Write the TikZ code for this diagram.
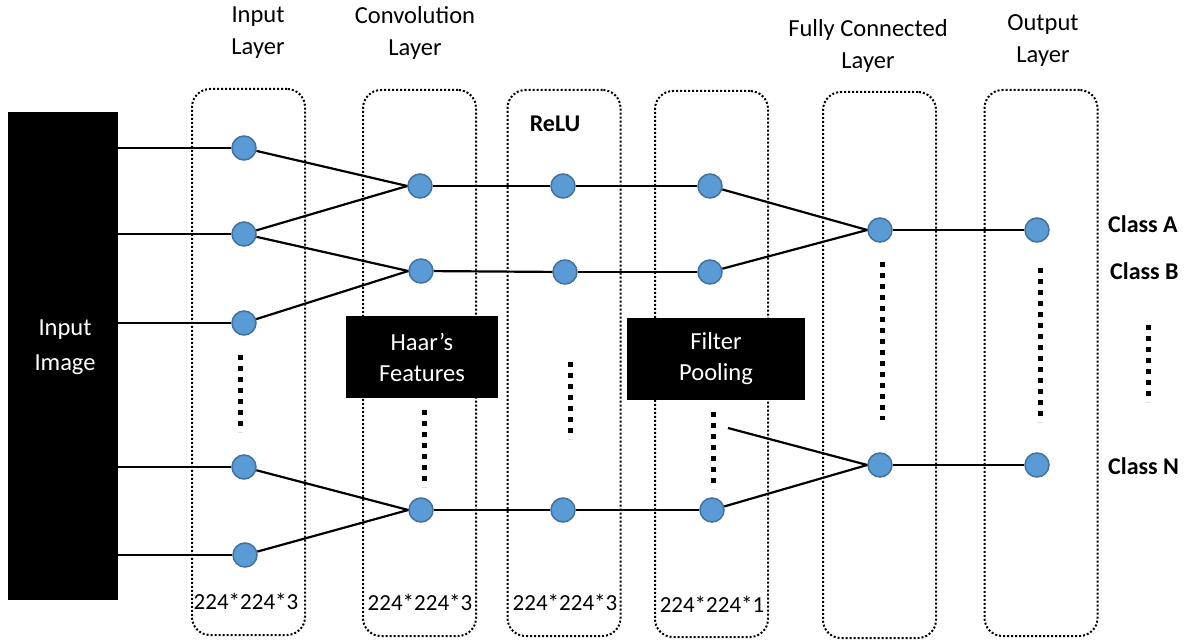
\documentclass[tikz,border=0pt]{standalone}
\usepackage{fontspec}
\setmainfont{Carlito}
\definecolor{nblue}{RGB}{91,155,213}
\definecolor{nborder}{RGB}{65,113,156}
\begin{document}
\begin{tikzpicture}[x=1pt,y=-1pt,
  layerbox/.style={draw, dotted, line width=2pt, rounded corners=18pt, minimum width=113pt, minimum height=546pt, inner sep=0pt},
  neuron/.style={circle, fill=nblue, draw=nborder, line width=1.5pt, minimum size=24pt, inner sep=0pt},
  conn/.style={line width=2.2pt},
  vdots/.style={line width=5pt, dash pattern=on 5pt off 6pt},
  blackbox/.style={fill=black, text=white, align=center, inner sep=0pt, font=\fontsize{24.5}{31}\selectfont},
  lbl/.style={align=center, inner sep=0pt, font=\fontsize{24.5}{32}\selectfont},
  cls/.style={anchor=west, inner sep=0pt, font=\fontsize{24}{26}\selectfont\bfseries},
  dim/.style={inner sep=0pt, font=\fontsize{23}{26}\selectfont}
]
\useasboundingbox (0,0) rectangle (1187,642);
% layer boxes
\node[layerbox] (L1) at (248.5,362) {};
\node[layerbox] (L2) at (419.5,363) {};
\node[layerbox] (L3) at (564,363) {};
\node[layerbox] (L4) at (711.5,364) {};
\node[layerbox] (L5) at (879.5,365) {};
\node[layerbox] (L6) at (1041,363) {};
% input image
\node[blackbox, minimum width=110pt, minimum height=488pt] (img) at (63,356) {};
\node[lbl, text=white, font=\fontsize{24.5}{35}\selectfont] (imgtxt) at (65,347) {Input\\Image};
% black boxes
\node[blackbox, minimum width=152pt, minimum height=82pt] (haar) at (422,357) {Haar’s\\Features};
\node[blackbox, minimum width=178pt, minimum height=82pt] (pool) at (716,359) {Filter\\Pooling};
% neurons
\node[neuron] (i0) at (244,148) {};
\node[neuron] (i1) at (244,234) {};
\node[neuron] (i2) at (244,323) {};
\node[neuron] (i3) at (244,467) {};
\node[neuron] (i4) at (245,555) {};
\node[neuron] (c0) at (420,186) {};
\node[neuron] (c1) at (421,271) {};
\node[neuron] (c2) at (421,510) {};
\node[neuron] (r0) at (563,186) {};
\node[neuron] (r1) at (565,272) {};
\node[neuron] (r2) at (563,510) {};
\node[neuron] (p0) at (710,186) {};
\node[neuron] (p1) at (710,272) {};
\node[neuron] (p2) at (712,510) {};
\node[neuron] (f0) at (880,230) {};
\node[neuron] (f1) at (880,465) {};
\node[neuron] (o0) at (1037,230) {};
\node[neuron] (o1) at (1037,465) {};
\coordinate (pfree) at (728,428);
% connectors
\foreach \n in {i0,i1,i2,i3,i4} \draw[conn] (img.east |- \n) -- (\n);
\draw[conn] (i0) -- (c0.west);
\draw[conn] (i1) -- (c0.west);
\draw[conn] (i1) -- (c1.west);
\draw[conn] (i2) -- (c1.west);
\draw[conn] (i3) -- (c2.west);
\draw[conn] (i4) -- (c2.west);
\draw[conn] (c0) -- (r0);
\draw[conn] (c1) -- (r1);
\draw[conn] (c2) -- (r2);
\draw[conn] (r0) -- (p0);
\draw[conn] (r1) -- (p1);
\draw[conn] (r2) -- (p2);
\draw[conn] (p0) -- (f0.west);
\draw[conn] (p1) -- (f0.west);
\draw[conn] (pfree) -- (f1.west);
\draw[conn] (p2) -- (f1.west);
\draw[conn] (f0) -- (o0);
\draw[conn] (f1) -- (o1);
% vertical dots
\coordinate (d1a) at (240,355); \coordinate (d1b) at (240,432);
\coordinate (d2a) at (424,410); \coordinate (d2b) at (424,487);
\coordinate (d3a) at (570,362); \coordinate (d3b) at (570,439);
\coordinate (d4a) at (713,412); \coordinate (d4b) at (713,489);
\coordinate (d5a) at (882,262); \coordinate (d5b) at (882,420);
\coordinate (d6a) at (1040,268); \coordinate (d6b) at (1040,422);
\coordinate (d7a) at (1148,325); \coordinate (d7b) at (1148,402);
\foreach \k in {1,...,7} \draw[vdots] (d\k a) -- (d\k b);
% labels
\node[lbl] (t1) at (258,33) {Input\\Layer};
\node[lbl] (t2) at (415,33) {Convolution\\Layer};
\node[lbl, font=\fontsize{24}{26}\selectfont\bfseries] (t3) at (555,124) {ReLU};
\node[lbl] (t5) at (868,46) {Fully Connected\\Layer};
\node[lbl] (t6) at (1043,41) {Output\\Layer};
\node[cls] (ca) at (1108,224) {Class A};
\node[cls] (cb) at (1110,271) {Class B};
\node[cls] (cn) at (1108,466) {Class N};
\node[dim] (s1) at (246,601) {224*224*3};
\node[dim] (s2) at (420,602) {224*224*3};
\node[dim] (s3) at (565,602) {224*224*3};
\node[dim] (s4) at (712,604) {224*224*1};
\end{tikzpicture}
\end{document}
